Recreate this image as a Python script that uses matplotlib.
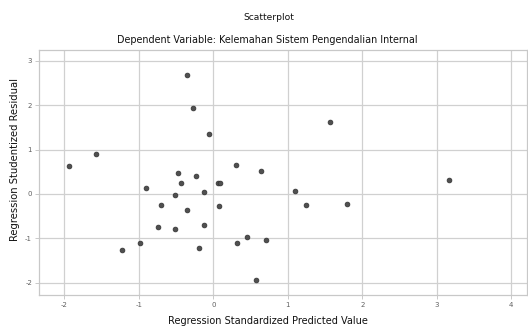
import matplotlib.pyplot as plt

plt.rcParams['axes.unicode_minus'] = False

# standardized predicted value (x) vs studentized residual (y)
pred = [-0.35, -0.27, -0.06, -1.57, -1.94, 0.31, 0.64, -0.48, -0.23, -0.44,
        0.06, 0.09, -0.91, -0.12, -0.52, -0.70, 0.08, -0.35, -0.74, -0.51,
        -0.13, -0.98, -1.22, -0.19, 0.32, 0.45, 0.71, 1.56, 1.10, 1.25,
        1.79, 3.16, 0.57]
resid = [2.68, 1.93, 1.35, 0.91, 0.62, 0.65, 0.52, 0.47, 0.41, 0.24,
         0.24, 0.24, 0.13, 0.05, -0.03, -0.26, -0.28, -0.37, -0.74, -0.79,
         -0.71, -1.10, -1.27, -1.21, -1.11, -0.98, -1.04, 1.62, 0.07, -0.26,
         -0.23, 0.32, -1.94]
xticks = [-2, -1, 0, 1, 2, 3, 4]
yticks = [-2, -1, 0, 1, 2, 3]

fig = plt.figure(figsize=(5.28, 3.26), dpi=100)
ax = fig.add_axes([0.074, 0.095, 0.924, 0.752])

ax.scatter(pred, resid, s=12, color='#505050', edgecolors='#303030', linewidths=0.5, zorder=3)

ax.set_xlim(-2.34, 4.21)
ax.set_ylim(-2.28, 3.25)
ax.set_xticks(xticks)
ax.set_yticks(yticks)
ax.grid(True, color='#d0d0d0', linewidth=0.9)
ax.set_axisbelow(True)
for s in ax.spines.values():
    s.set_color('#c8c8c8')
    s.set_linewidth(0.9)
ax.tick_params(labelsize=5, colors='#c0c0c0', labelcolor='#606060', length=3, width=0.6, pad=2)

fig.text(0.508, 0.015, "Regression Standardized Predicted Value", ha='center', va='center',
         fontsize=7, color='#111111')
fig.text(0.028, 0.51, "Regression Studentized Residual", ha='center', va='center',
         rotation=90, fontsize=7.2, color='#111111')

fig.text(0.51, 0.945, "Scatterplot", ha='center', va='center', fontsize=6.6, color='#111111')
fig.text(0.506, 0.877, "Dependent Variable: Kelemahan Sistem Pengendalian Internal",
         ha='center', va='center', fontsize=6.9, color='#111111')

fig.savefig("out.png", dpi=100)
